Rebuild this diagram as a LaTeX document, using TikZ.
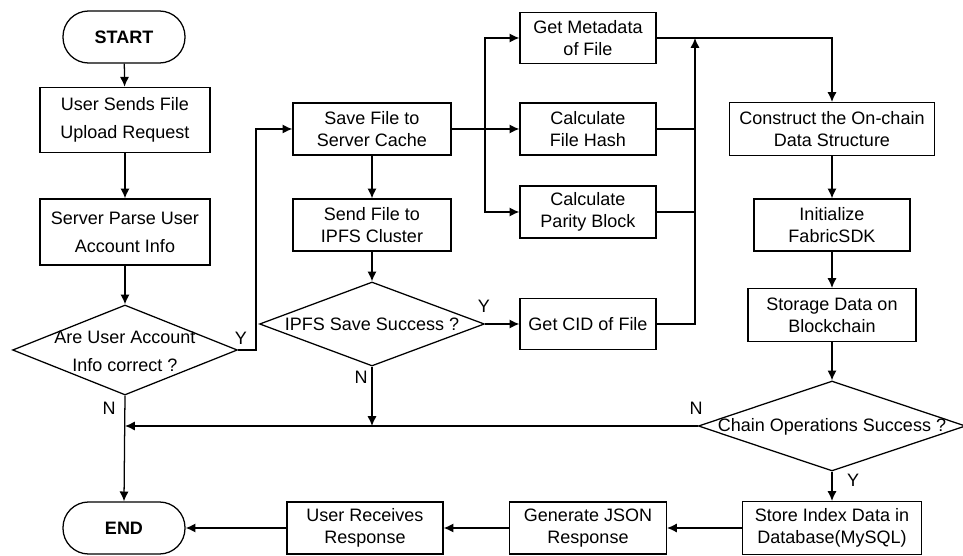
\documentclass[tikz,border=0pt]{standalone}
\usepackage{fontspec}
\setmainfont{Liberation Sans}
\usetikzlibrary{shapes.geometric,arrows.meta}

\tikzset{
  box/.style={draw,line width=0.9pt,align=center,inner sep=2pt},
  term/.style={draw,line width=0.9pt,rounded corners=0.64cm,minimum width=3.05cm,minimum height=1.3cm,font=\fontsize{12.8}{15.6}\selectfont\bfseries},
  decision/.style={draw,line width=0.9pt,diamond,inner sep=0pt},
  yn/.style={inner sep=0pt},
}

\begin{document}
\begin{tikzpicture}[x=0.025cm,y=-0.025cm,>={Latex[length=7pt,width=6.5pt]},line width=0.9pt,
  every node/.append style={font=\fontsize{12.8}{15.6}\selectfont}]

  \useasboundingbox (0,0) rectangle (963,556);

  % left column
  \node[term] (start) at (124,37) {START};
  \node[box,minimum width=4.25cm,minimum height=1.63cm] (send) at (125,120) {User Sends File\\[4.3pt]Upload Request};
  \node[box,minimum width=4.25cm,minimum height=1.65cm] (parse) at (125,232) {Server Parse User\\[4.3pt]Account Info};
  \node[decision,minimum width=5.62cm,minimum height=2.25cm] (acc) at (125,350) {};
  \node[align=center] (acc-t) at (125,351) {Are User Account\\[4.3pt]Info correct ?};
  \node[term] (end) at (124,528) {END};

  % middle column
  \node[box,minimum width=3.95cm,minimum height=1.3cm] (save) at (372,129) {Save File to\\Server Cache};
  \node[box,minimum width=3.95cm,minimum height=1.3cm] (ipfs) at (372,225) {Send File to\\IPFS Cluster};
  \node[decision,minimum width=5.62cm,minimum height=2.1cm] (ipfsok) at (372,324) {};
  \node (ipfsok-t) at (372,324) {IPFS Save Success ?};

  \node[box,minimum width=3.4cm,minimum height=1.28cm] (meta) at (588,38) {Get Metadata\\of File};
  \node[box,minimum width=3.4cm,minimum height=1.3cm] (hash) at (588,129) {Calculate\\File Hash};
  \node[box,minimum width=3.4cm,minimum height=1.3cm] (parity) at (588,212) {Calculate\\Parity Block};
  \node[box,minimum width=3.4cm,minimum height=1.28cm] (cid) at (588,324) {Get CID of File};

  % right column
  \node[box,minimum width=5.12cm,minimum height=1.32cm] (construct) at (832,129) {Construct the On-chain\\Data Structure};
  \node[box,minimum width=3.9cm,minimum height=1.3cm] (init) at (832,225) {Initialize\\FabricSDK};
  \node[box,minimum width=4.2cm,minimum height=1.32cm] (storage) at (832,315) {Storage Data on\\Blockchain};
  \node[decision,minimum width=6.68cm,minimum height=2.25cm] (chain) at (832,426) {};
  \node (chain-t) at (832,427) {Chain Operations Success ?};

  % bottom row
  \node[box,minimum width=4.48cm,minimum height=1.32cm] (store) at (832,528) {Store Index Data in\\Database(MySQL)};
  \node[box,minimum width=3.92cm,minimum height=1.3cm] (json) at (588,528) {Generate JSON\\Response};
  \node[box,minimum width=3.9cm,minimum height=1.3cm] (recv) at (365,528) {User Receives\\Response};

  \coordinate (fork) at (485,129);
  \coordinate (join) at (695,38);

  \draw[->] (start) -- (send);
  \draw[->] (send) -- (parse);
  \draw[->] (parse) -- (acc);
  \draw[->] (acc.east) -- ++(18,0) |- (save.west);
  \draw[->] (acc.south) -- (end.north);

  \draw[->] (save) -- (ipfs);
  \draw[->] (ipfs) -- (ipfsok);
  \draw[->] (ipfsok.east) -- (cid.west);
  \draw[->] (ipfsok.south) -- (ipfsok.south |- chain.west);

  \draw[->] (save.east) -- (hash.west);
  \draw[->] (fork) |- (meta.west);
  \draw[->] (fork) |- (parity.west);

  \draw[->] (cid.east) -| (join);
  \draw (hash.east) -- (hash.east -| join);
  \draw (parity.east) -- (parity.east -| join);
  \draw[->] (meta.east) -| (construct.north);

  \draw[->] (construct) -- (init);
  \draw[->] (init) -- (storage);
  \draw[->] (storage) -- (chain);
  \draw[->] (chain.west) -- (acc.south |- chain.west);
  \draw[->] (chain.south) -- (store.north);

  \draw[->] (store) -- (json);
  \draw[->] (json) -- (recv);
  \draw[->] (recv) -- (end);

  % Y / N labels
  \node[yn] (y1) at (241,338) {Y};
  \node[yn] (n1) at (109,408) {N};
  \node[yn] (y2) at (484,306) {Y};
  \node[yn] (n2) at (361,377) {N};
  \node[yn] (n3) at (696,408) {N};
  \node[yn] (y3) at (853,480) {Y};

\end{tikzpicture}
\end{document}
